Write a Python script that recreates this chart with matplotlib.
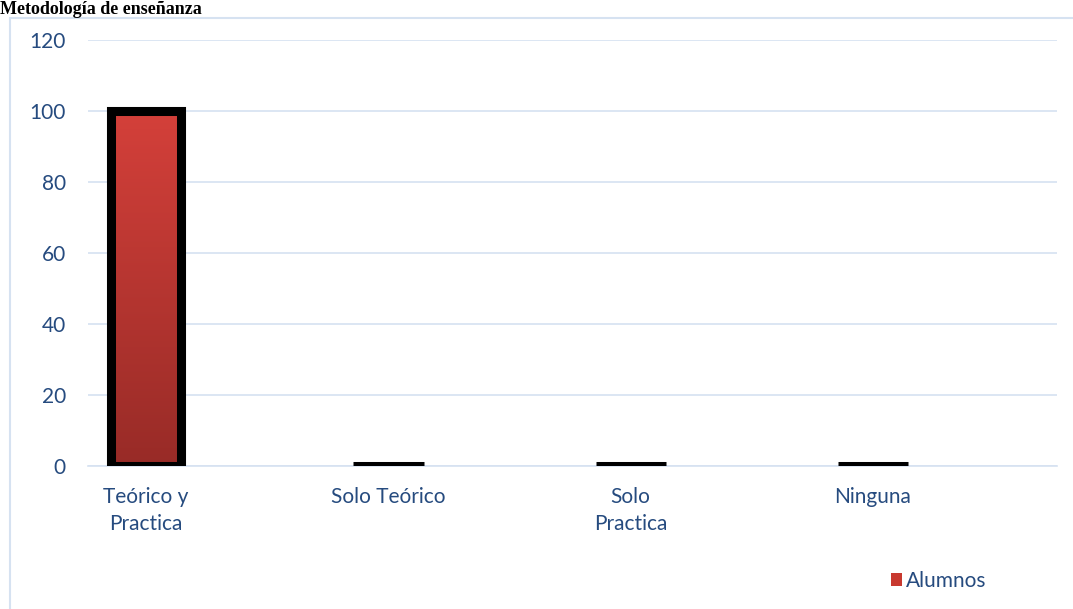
import matplotlib
matplotlib.use("Agg")
import matplotlib.pyplot as plt
import numpy as np
from matplotlib.patches import Rectangle

categories = ["Teórico y\nPractica", "Solo Teórico", "Solo\nPractica", "Ninguna"]
alumnos = [100, 0, 0, 0]
y_ticks = [0, 20, 40, 60, 80, 100, 120]
series_name = "Alumnos"
title = "Metodología de enseñanza"

text_blue = "#264B7F"
grid_blue = "#D6E2F1"
label_size = 15

fig = plt.figure(figsize=(10.73, 6.09), dpi=100)

# chart area frame
fig.patches.append(Rectangle((10 / 1073, -0.05), 1.1, 1 - 18 / 609 + 0.05,
                             transform=fig.transFigure, fill=False,
                             edgecolor=grid_blue, linewidth=1.5))

fig.text(0.0, 1 - 1 / 609, title, family="Liberation Serif", weight="bold",
         fontsize=13, va="top", ha="left")

ax = fig.add_axes([88 / 1073, 1 - 466 / 609, (1057 - 88) / 1073, (466 - 40) / 609])

x = np.arange(len(categories))
bars = ax.bar(x, alumnos, width=0.29, color="#C8392F", edgecolor="black",
              linewidth=6.5, zorder=3, label=series_name)

# vertical red gradient inside each bar
grad = np.linspace(0, 1, 256).reshape(-1, 1)
cmap = matplotlib.colors.LinearSegmentedColormap.from_list("bar", ["#982B27", "#D4403A"])
for b in bars:
    if b.get_height() > 0:
        x0, y0 = b.get_x(), b.get_y()
        im = ax.imshow(grad, cmap=cmap, origin="lower", aspect="auto",
                       extent=(x0, x0 + b.get_width(), y0, y0 + b.get_height()),
                       zorder=3.5)
        im.set_clip_path(b)
        # outline back on top of the gradient
        ax.add_patch(Rectangle((x0, y0), b.get_width(), b.get_height(),
                               fill=False, edgecolor="black", linewidth=6.5, zorder=4))

ax.set_xlim(-0.24, 3.76)
ax.set_ylim(0, 120)
ax.set_yticks(y_ticks)
ax.set_xticks(x)
ax.set_xticklabels(categories, linespacing=1.45)
ax.yaxis.grid(True, color=grid_blue, linewidth=1.2, zorder=0)
ax.set_axisbelow(True)
for s in ["top", "right", "left"]:
    ax.spines[s].set_visible(False)
ax.spines["bottom"].set_color(grid_blue)
ax.spines["bottom"].set_linewidth(1.2)
ax.tick_params(length=0, labelcolor=text_blue, labelsize=label_size)
ax.tick_params(axis="y", pad=16)
ax.tick_params(axis="x", pad=15)
for lbl in ax.get_xticklabels() + ax.get_yticklabels():
    lbl.set_family("Lato")

handle = Rectangle((0, 0), 1, 1, facecolor="#C8392F", edgecolor="none")
fig.legend([handle], [series_name], loc="center left",
           bbox_to_anchor=(872 / 1073, 1 - 581 / 609), frameon=False,
           handlelength=0.55, handleheight=0.55, handletextpad=0.2,
           prop={"family": "Lato", "size": label_size}, labelcolor=text_blue)

fig.savefig("out.png", dpi=100)
